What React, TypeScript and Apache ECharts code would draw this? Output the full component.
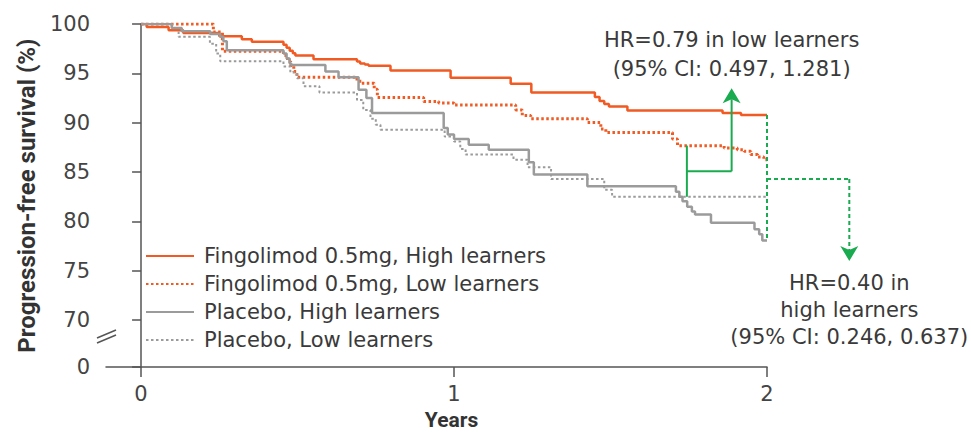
import React, { useEffect, useRef } from "react";
import * as echarts from "echarts";

// ---- Data (years, progression-free survival %) ----
const seriesNames = [
  "Fingolimod 0.5mg, High learners",
  "Fingolimod 0.5mg, Low learners",
  "Placebo, High learners",
  "Placebo, Low learners",
];

const fingolimodHigh: [number, number][] = [
  [0, 100], [0.018, 99.7], [0.088, 99.36], [0.135, 99.1], [0.25, 98.75], [0.322, 98.45],
  [0.354, 98.2], [0.455, 97.9], [0.465, 97.6], [0.475, 97.3], [0.485, 97.05], [0.493, 96.8],
  [0.551, 96.43], [0.69, 96.2], [0.7, 96.0], [0.715, 95.9], [0.727, 95.76], [0.797, 95.28],
  [0.989, 94.55], [1.181, 93.94], [1.247, 93.05], [1.45, 92.6], [1.465, 92.2], [1.48, 91.9],
  [1.495, 91.65], [1.554, 91.25], [1.858, 90.98], [1.917, 90.78], [2.0, 90.78],
];

const fingolimodLow: [number, number][] = [
  [0, 100], [0.231, 99.2], [0.26, 97.24], [0.455, 96.8], [0.468, 96.2], [0.478, 95.8],
  [0.488, 95.2], [0.498, 94.6], [0.69, 94.2], [0.705, 94.0], [0.745, 93.4], [0.755, 92.56],
  [0.903, 92.15], [0.951, 92.0], [1.0, 91.8], [1.197, 91.3], [1.218, 90.74], [1.245, 90.4],
  [1.426, 90.03], [1.469, 89.36], [1.485, 89.0], [1.698, 88.35], [1.714, 87.68], [1.863, 87.44],
  [1.905, 87.27], [1.927, 87.1], [1.948, 86.77], [1.97, 86.53], [1.99, 86.26], [2.0, 86.26],
];

const placeboHigh: [number, number][] = [
  [0, 100], [0.098, 99.6], [0.13, 99.26], [0.221, 98.99], [0.253, 98.7], [0.263, 98.25],
  [0.274, 97.34], [0.455, 97.0], [0.465, 96.5], [0.475, 96.0], [0.48, 95.86], [0.589, 95.18],
  [0.631, 94.6], [0.695, 93.33], [0.72, 92.5], [0.738, 90.98], [0.967, 89.46], [0.98, 88.8],
  [1.0, 88.35], [1.047, 87.78], [1.111, 87.27], [1.239, 86.0], [1.255, 84.75], [1.426, 83.57],
  [1.709, 83.0], [1.72, 82.5], [1.73, 82.05], [1.745, 81.5], [1.76, 81.0], [1.77, 80.7],
  [1.821, 79.87], [1.96, 79.2], [1.975, 78.7], [1.985, 78.08], [2.0, 78.08],
];

const placeboLow: [number, number][] = [
  [0, 100], [0.098, 99.6], [0.12, 98.7], [0.22, 98.0], [0.24, 97.0], [0.253, 96.23],
  [0.455, 95.7], [0.477, 95.1], [0.498, 94.5], [0.519, 93.7], [0.57, 93.06], [0.69, 92.3],
  [0.71, 91.3], [0.733, 90.4], [0.75, 89.8], [0.765, 89.3], [0.97, 88.6], [1.0, 88.1],
  [1.02, 87.34], [1.037, 86.77], [1.19, 86.26], [1.235, 85.5], [1.31, 84.3], [1.48, 83.2],
  [1.505, 82.5], [2.0, 82.5],
];

const xTickValues = [0, 1, 2];
const yBreakValue = 65.25; // drawn as "0" below the axis break
const yTickValues = [yBreakValue, 70, 75, 80, 85, 90, 95, 100];

const lowHRText = ["HR=0.79 in low learners", "(95% CI: 0.497, 1.281)"];
const highHRText = ["HR=0.40 in", "high learners", "(95% CI: 0.246, 0.637)"];

// annotation anchors in data coordinates
const lowBracket = { t: 1.744, top: 87.68, bottom: 82.5, mid: 85.08, arrowT: 1.887, tip: 93.5 };
const highBracket = { t: 2.0, top: 90.78, bottom: 78.08, mid: 84.3, arrowT: 2.263, tip: 76.0 };

const ORANGE = "#f15a22";
const GRAY = "#9b9b9b";
const GREEN = "#1aab50";
const TEXT = "#3a3a3a";
const FONT = "DejaVu Sans";

export default function App() {
  const ref = useRef<HTMLDivElement>(null);

  useEffect(() => {
    if (!ref.current) return;
    const chart = echarts.init(ref.current, undefined, { renderer: "svg" });

    const mk = (name: string, data: [number, number][], color: string, type: any, width: number) => ({
      name,
      type: "line",
      step: "end",
      symbol: "none",
      showSymbol: false,
      data,
      lineStyle: { color, width, type },
      itemStyle: { color },
    });

    chart.setOption({
      animation: false,
      grid: { left: 106, right: 204, top: 24, bottom: 67, containLabel: false },
      legend: {
        orient: "vertical",
        left: 140,
        top: 240,
        itemWidth: 48,
        itemHeight: 14,
        itemGap: 6,
        data: seriesNames,
        itemStyle: { opacity: 0, borderWidth: 0 },
        textStyle: { fontFamily: FONT, fontSize: 21, color: TEXT, padding: [0, 0, 0, 5], lineHeight: 22 },
      },
      xAxis: {
        type: "value",
        min: -0.112,
        max: 2,
        name: "Years",
        nameLocation: "middle",
        nameGap: 41,
        nameTextStyle: { fontFamily: "Roboto", fontWeight: "bold", fontSize: 21, color: "#333", padding: [0, 0, 0, 30] },
        axisLine: { lineStyle: { color: "#555", width: 1.5 } },
        axisTick: { customValues: xTickValues, length: 10, lineStyle: { color: "#555", width: 1.5 } },
        axisLabel: { customValues: xTickValues, margin: 16, fontFamily: FONT, fontSize: 21, color: "#444" },
        splitLine: { show: false },
      },
      yAxis: {
        type: "value",
        min: yBreakValue,
        max: 100,
        name: "Progression-free survival (%)",
        nameLocation: "middle",
        nameRotate: 90,
        nameGap: 67,
        nameTextStyle: { fontFamily: "Roboto", fontWeight: "bold", fontSize: 24, color: "#333", padding: [0, 0, 0, 0] },
        axisLine: { show: true, lineStyle: { color: "#555", width: 1.5 } },
        axisTick: { show: true, customValues: yTickValues, length: 9, lineStyle: { color: "#555", width: 1.5 } },
        axisLabel: {
          customValues: yTickValues,
          margin: 16,
          fontFamily: FONT,
          fontSize: 21,
          color: "#444",
          formatter: (v: number) => (v < 66 ? "0" : String(Math.round(v))),
        },
        splitLine: { show: false },
      },
      series: [
        mk(seriesNames[0], fingolimodHigh, ORANGE, "solid", 2.5),
        mk(seriesNames[1], fingolimodLow, ORANGE, [2.5, 2.5], 3),
        mk(seriesNames[2], placeboHigh, GRAY, "solid", 2.5),
        mk(seriesNames[3], placeboLow, GRAY, [2.5, 2.5], 2),
      ],
    });

    const px = (t: number, v: number) => chart.convertToPixel({ gridIndex: 0 }, [t, v]) as number[];

    const line = (a: number[], b: number[], dashed: boolean) => ({
      type: "line",
      z: 100,
      shape: { x1: a[0], y1: a[1], x2: b[0], y2: b[1] },
      style: { stroke: GREEN, lineWidth: 2, lineDash: dashed ? [4, 3] : null },
    });
    const arrow = (tip: number[], dir: number) => ({
      type: "polygon",
      z: 101,
      shape: {
        points: [
          [tip[0], tip[1]],
          [tip[0] - 9, tip[1] + 15 * dir],
          [tip[0], tip[1] + 11 * dir],
          [tip[0] + 9, tip[1] + 15 * dir],
        ],
      },
      style: { fill: GREEN },
    });
    const text = (s: string, x: number, y: number) => ({
      type: "text",
      z: 102,
      x,
      y,
      style: { text: s, fontFamily: FONT, fontSize: 21, fill: TEXT, align: "center", verticalAlign: "middle" },
    });

    // low learners bracket (solid)
    const lT = px(lowBracket.t, lowBracket.top);
    const lB = px(lowBracket.t, lowBracket.bottom);
    const lM = px(lowBracket.t, lowBracket.mid);
    const lAM = px(lowBracket.arrowT, lowBracket.mid);
    const lTip = px(lowBracket.arrowT, lowBracket.tip);
    // high learners bracket (dashed)
    const hT = px(highBracket.t, highBracket.top);
    const hB = px(highBracket.t, highBracket.bottom);
    const hM = px(highBracket.t, highBracket.mid);
    const hAM = px(highBracket.arrowT, highBracket.mid);
    const hTip = px(highBracket.arrowT, highBracket.tip);

    // axis break
    const br = px(-0.112, 68.3);

    chart.setOption({
      graphic: [
        line(lT, lB, false),
        line(lM, lAM, false),
        line(lAM, [lTip[0], lTip[1] + 11], false),
        arrow(lTip, 1),
        line(hT, hB, true),
        line(hM, hAM, true),
        line(hAM, [hTip[0], hTip[1] - 11], true),
        arrow(hTip, -1),
        text(lowHRText[0], lTip[0], lTip[1] - 48),
        text(lowHRText[1], lTip[0], lTip[1] - 19),
        text(highHRText[0], hTip[0], hTip[1] + 22),
        text(highHRText[1], hTip[0], hTip[1] + 49),
        text(highHRText[2], hTip[0], hTip[1] + 76),
        {
          type: "rect",
          z: 100,
          shape: { x: br[0] - 3, y: br[1] - 3, width: 6, height: 5 },
          style: { fill: "#fff" },
        },
        {
          type: "line",
          z: 101,
          shape: { x1: br[0] - 9, y1: br[1] + 1, x2: br[0] + 10, y2: br[1] - 7 },
          style: { stroke: "#555", lineWidth: 1.5 },
        },
        {
          type: "line",
          z: 101,
          shape: { x1: br[0] - 9, y1: br[1] + 6, x2: br[0] + 10, y2: br[1] - 2 },
          style: { stroke: "#555", lineWidth: 1.5 },
        },
      ],
    });

    return () => chart.dispose();
  }, []);

  return <div ref={ref} style={{ position: "absolute", left: 0, top: 0, width: 971, height: 435, background: "#fff" }} />;
}
